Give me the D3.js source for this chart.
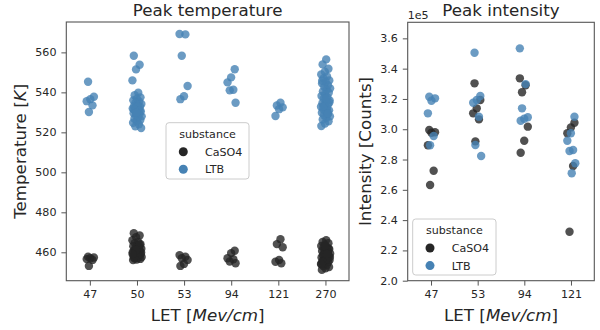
<!DOCTYPE html>
<html>
<head>
<meta charset="utf-8">
<script src="https://cdn.jsdelivr.net/npm/d3@7"></script>
<style>
  html, body { margin: 0; padding: 0; background: #fff; }
  svg { display: block; font-family: "DejaVu Sans", sans-serif; }
</style>
</head>
<body>
<svg id="chart" width="600" height="330"></svg>
<script>
// ---- data ----
const substances = ["CaSO4", "LTB"];

// Peak temperature [K], one list per LET value
const tempCategories = ["47", "50", "53", "94", "121", "270"];
const tempCaSO4 = [
  [457.8, 457.4, 457.0, 456.6, 456.2, 453.2],
  [469.5, 468.4, 467.6, 466.0, 465.2, 464.6, 464.0, 463.5, 463.0, 462.6, 462.2, 461.8, 461.4,
   461.0, 460.6, 460.3, 460.0, 459.7, 459.4, 459.1, 458.8, 458.5, 458.2, 457.9, 457.6, 457.3,
   457.0, 456.7, 456.4, 456.1, 462.0, 460.8, 459.9, 458.6, 457.4, 463.8, 461.2, 459.2],
  [458.6, 457.8, 457.0, 456.2, 454.2, 453.2],
  [460.8, 459.6, 457.0, 456.5, 455.4, 454.5],
  [466.5, 464.1, 462.5, 456.2, 455.3, 454.5],
  [466.1, 465.2, 464.5, 463.8, 463.2, 462.6, 462.1, 461.6, 461.1, 460.6, 460.2, 459.8, 459.4,
   459.0, 458.6, 458.2, 457.8, 457.4, 457.0, 456.6, 456.2, 455.8, 455.4, 455.0, 454.6, 454.2,
   453.7, 453.2, 452.6, 452.0, 451.2, 460.0, 458.9, 457.6, 456.4, 455.2, 461.8, 463.0, 454.0, 459.2]
];
const tempLTB = [
  [545.3, 537.8, 536.6, 535.6, 533.5, 530.2],
  [558.3, 553.8, 551.5, 546.0, 539.8, 538.6, 537.5, 536.8, 536.0, 535.4, 534.8, 534.2, 533.7,
   533.2, 532.8, 532.3, 531.9, 531.4, 531.0, 530.5, 530.0, 529.6, 529.1, 528.6, 528.0, 527.4,
   526.8, 526.2, 525.5, 524.8, 524.0, 523.0, 522.2, 533.0, 531.6, 530.8, 529.8],
  [569.2, 569.0, 558.3, 543.2, 538.1, 536.6],
  [551.6, 547.5, 545.0, 541.3, 541.0, 534.8],
  [534.8, 533.4, 532.5, 531.6, 528.2],
  [556.5, 554.0, 551.8, 550.3, 549.0, 548.0, 547.0, 546.0, 545.2, 544.5, 543.6, 542.8, 542.0,
   541.2, 540.5, 539.8, 539.0, 538.2, 537.5, 536.8, 536.0, 535.3, 534.6, 534.0, 533.4, 532.8,
   532.2, 531.6, 531.0, 530.4, 529.8, 529.2, 528.6, 528.0, 527.2, 526.4, 525.5, 524.4, 523.2,
   530.6, 533.0, 535.0, 537.0, 545.8, 529.4]
];
const tempTicks = [460, 480, 500, 520, 540, 560];

// Peak intensity [counts / 1e5], one list per LET value
const intCategories = ["47", "53", "94", "121"];
const intCaSO4 = [
  [2.995, 2.980, 2.977, 2.894, 2.726, 2.632],
  [3.303, 3.193, 3.138, 3.105, 3.065, 2.920],
  [3.336, 3.290, 3.244, 3.017, 2.924, 2.845],
  [3.043, 3.012, 2.973, 2.757, 2.323]
];
const intLTB = [
  [3.214, 3.204, 3.188, 3.105, 2.955, 2.894],
  [3.505, 3.219, 3.193, 3.175, 3.083, 2.896, 2.823],
  [3.534, 3.298, 3.138, 3.079, 3.069, 3.056],
  [3.083, 2.973, 2.924, 2.863, 2.856, 2.775, 2.709]
];
const intTicks = [2.0, 2.2, 2.4, 2.6, 2.8, 3.0, 3.2, 3.4, 3.6];

// ---- styling ----
const colors = { CaSO4: "#262626", LTB: "#4682b4" };
const pointAlpha = 0.8;
const pointR = 4.2;
const spineColor = "#555";
const textColor = "#262626";
const tickFont = 11.1;
const labelFont = 16.7;

const svg = d3.select("#chart");

// Deterministic strip-plot jitter in band units (golden-ratio sequence)
function jitter(i) {
  return (((i * 0.6180339887 + 0.31) % 1) - 0.5) * 0.2;
}

function flatten(cats, groups, substance) {
  const out = [];
  groups.forEach((vals, ci) => {
    vals.forEach((v, i) => out.push({ cat: cats[ci], value: v, substance, j: jitter(i + ci * 3) }));
  });
  return out;
}

function panel(opts) {
  const { x0, x1, y0, y1, cats, domain, ticks, fmt, series, title, ylabel, ylabelX, legend } = opts;
  const g = svg.append("g");
  const x = d3.scalePoint().domain(cats).range([x0, x1]).padding(0.5);
  const step = x.step();
  const y = d3.scaleLinear().domain(domain).range([y1, y0]);

  // points
  series.forEach(s => {
    g.append("g").selectAll("circle").data(s).join("circle")
      .attr("cx", d => x(d.cat) + d.j * step)
      .attr("cy", d => y(d.value))
      .attr("r", pointR)
      .attr("fill", d => colors[d.substance])
      .attr("fill-opacity", pointAlpha);
  });

  // axes
  const xa = g.append("g").attr("transform", `translate(0,${y1})`)
    .call(d3.axisBottom(x).tickSize(4.9).tickPadding(4.9).tickSizeOuter(0));
  const ya = g.append("g").attr("transform", `translate(${x0},0)`)
    .call(d3.axisLeft(y).tickValues(ticks).tickFormat(fmt).tickSize(4.9).tickPadding(4.9).tickSizeOuter(0));
  [xa, ya].forEach(a => {
    a.select(".domain").remove();
    a.selectAll("line").attr("stroke", spineColor).attr("stroke-width", 1);
    a.selectAll("text").attr("fill", textColor).attr("font-size", tickFont)
      .attr("font-family", "DejaVu Sans");
  });

  // frame
  g.append("rect").attr("x", x0).attr("y", y0).attr("width", x1 - x0).attr("height", y1 - y0)
    .attr("fill", "none").attr("stroke", spineColor).attr("stroke-width", 1.1);

  // title
  g.append("text").attr("x", (x0 + x1) / 2).attr("y", 15.5).attr("text-anchor", "middle")
    .attr("font-size", labelFont).attr("fill", textColor).text(title);

  // x label with italic unit
  const xl = g.append("text").attr("x", (x0 + x1) / 2).attr("y", 320.5).attr("text-anchor", "middle")
    .attr("font-size", labelFont).attr("fill", textColor);
  xl.append("tspan").text("LET [");
  xl.append("tspan").attr("font-style", "italic").text("Mev/cm");
  xl.append("tspan").text("]");

  // y label
  const yl = g.append("text").attr("transform", `translate(${ylabelX},${(y0 + y1) / 2}) rotate(-90)`)
    .attr("text-anchor", "middle").attr("font-size", labelFont).attr("fill", textColor);
  ylabel.forEach(p => yl.append("tspan").attr("font-style", p.italic ? "italic" : null).text(p.t));

  // legend
  const lg = g.append("g");
  lg.append("rect").attr("x", legend.x).attr("y", legend.y).attr("width", legend.w).attr("height", legend.h)
    .attr("rx", 3).attr("fill", "#fff").attr("fill-opacity", 0.8).attr("stroke", "#cccccc").attr("stroke-width", 1);
  lg.append("text").attr("x", legend.x + legend.w / 2).attr("y", legend.y + 15)
    .attr("text-anchor", "middle").attr("font-size", tickFont).attr("fill", textColor).text("substance");
  substances.forEach((s, i) => {
    const cy = legend.y + 29 + i * 17.6;
    lg.append("circle").attr("cx", legend.x + 17.3).attr("cy", cy).attr("r", 4.5).attr("fill", colors[s]);
    lg.append("text").attr("x", legend.x + 39).attr("y", cy + 4).attr("font-size", tickFont)
      .attr("fill", textColor).text(s);
  });
  return g;
}

// Left: peak temperature
panel({
  x0: 66.3, x1: 349, y0: 22, y1: 280.7,
  cats: tempCategories, domain: [445.8, 575.2], ticks: tempTicks, fmt: d3.format("d"),
  series: [flatten(tempCategories, tempCaSO4, "CaSO4"), flatten(tempCategories, tempLTB, "LTB")],
  title: "Peak temperature",
  ylabel: [{ t: "Temperature [" }, { t: "K", italic: true }, { t: "]" }],
  ylabelX: 26,
  legend: { x: 166, y: 122.7, w: 83, h: 56.3 }
});

// Right: peak intensity
const right = panel({
  x0: 407.7, x1: 594.3, y0: 22.3, y1: 280.7,
  cats: intCategories, domain: [2.0, 3.706], ticks: intTicks, fmt: d3.format(".1f"),
  series: [flatten(intCategories, intCaSO4, "CaSO4"), flatten(intCategories, intLTB, "LTB")],
  title: "Peak intensity",
  ylabel: [{ t: "Intensity [Counts]" }],
  ylabelX: 371,
  legend: { x: 412.7, y: 219, w: 83.3, h: 56 }
});

// offset multiplier for the intensity axis
right.append("text").attr("x", 407.7).attr("y", 18.5).attr("font-size", tickFont)
  .attr("fill", textColor).text("1e5");
</script>
</body>
</html>
